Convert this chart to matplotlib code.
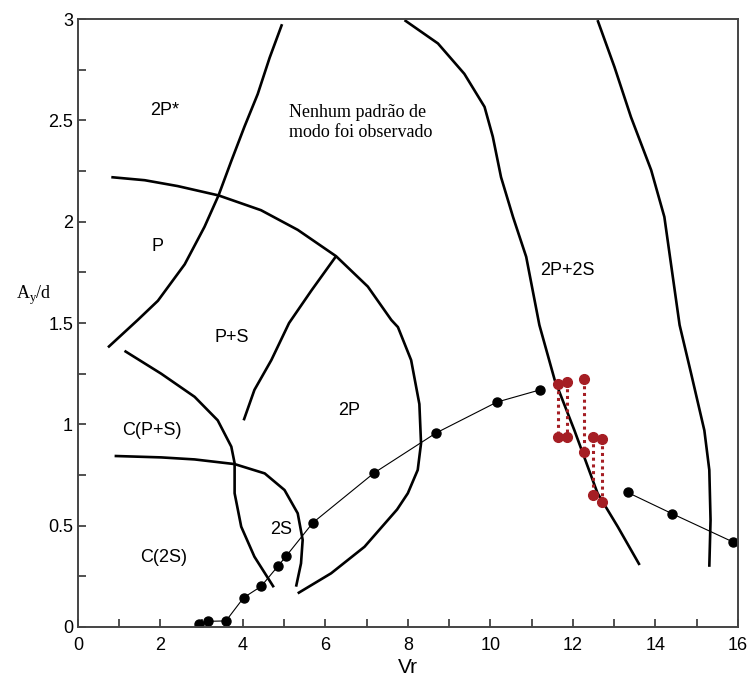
import matplotlib
matplotlib.use("Agg")
import matplotlib.pyplot as plt
from matplotlib.ticker import MultipleLocator

# boundary curves between the regimes (Vr, Ay/d)
curve_a_x = [0.73, 1.21, 1.45, 1.94, 2.59, 3.07, 3.41, 3.72, 4.04, 4.36, 4.65, 4.95]
curve_a_y = [1.38, 1.47, 1.515, 1.61, 1.79, 1.975, 2.13, 2.30, 2.47, 2.63, 2.81, 2.975]

curve_b_x = [0.81, 1.62, 2.42, 3.41, 4.44, 5.33, 6.26, 7.03, 7.6, 7.76, 8.08, 8.28,
             8.32, 8.24, 8.0, 7.74, 6.95, 6.14, 5.33]
curve_b_y = [2.22, 2.205, 2.176, 2.13, 2.057, 1.96, 1.83, 1.68, 1.515, 1.48, 1.317, 1.10,
             0.906, 0.775, 0.66, 0.58, 0.396, 0.265, 0.166]

curve_c_x = [6.26, 5.66, 5.12, 4.69, 4.28, 4.02]
curve_c_y = [1.83, 1.66, 1.50, 1.317, 1.17, 1.02]

curve_d_x = [1.13, 2.02, 2.83, 3.39, 3.72, 3.80, 3.80, 3.96, 4.28, 4.75]
curve_d_y = [1.363, 1.25, 1.136, 1.02, 0.89, 0.808, 0.66, 0.495, 0.347, 0.196]

curve_e_x = [0.89, 2.02, 2.83, 3.80, 4.53, 5.01, 5.33, 5.45, 5.41, 5.29]
curve_e_y = [0.844, 0.837, 0.827, 0.804, 0.758, 0.676, 0.561, 0.43, 0.314, 0.199]

curve_f_x = [7.92, 8.73, 9.37, 9.86, 10.06, 10.26, 10.55, 10.87, 11.19, 11.56,
             12.04, 12.6, 13.09, 13.62]
curve_f_y = [2.995, 2.88, 2.73, 2.567, 2.42, 2.22, 2.024, 1.827, 1.49, 1.22,
             0.97, 0.66, 0.495, 0.306]

curve_g_x = [12.6, 13.01, 13.41, 13.9, 14.22, 14.59, 14.87, 15.19, 15.31, 15.34, 15.31]
curve_g_y = [2.995, 2.764, 2.517, 2.255, 2.024, 1.49, 1.25, 0.97, 0.775, 0.528, 0.297]

curves = [(curve_a_x, curve_a_y), (curve_b_x, curve_b_y), (curve_c_x, curve_c_y),
          (curve_d_x, curve_d_y), (curve_e_x, curve_e_y), (curve_f_x, curve_f_y),
          (curve_g_x, curve_g_y)]

# measured response, lower branch
vr_low = [2.93, 3.16, 3.59, 4.02, 4.44, 4.85, 5.05, 5.70, 7.18, 8.68, 10.16, 11.2]
ay_low = [0.015, 0.028, 0.03, 0.145, 0.20, 0.30, 0.35, 0.515, 0.76, 0.957, 1.11, 1.17]

# measured response, upper branch after jump
vr_high = [13.33, 14.4, 15.88]
ay_high = [0.664, 0.56, 0.42]

# intermittent points (top / bottom of each pair)
vr_jump = [11.64, 11.86, 12.27, 12.49, 12.71]
ay_jump_top = [1.197, 1.207, 1.225, 0.936, 0.929]
ay_jump_bot = [0.937, 0.94, 0.865, 0.651, 0.615]

fig = plt.figure(figsize=(7.49, 6.83), dpi=100)
ax = fig.add_axes([0.104, 0.082, 0.881, 0.890])

for cx, cy in curves:
    ax.plot(cx, cy, color="black", lw=1.9, solid_capstyle="butt")

ax.plot(vr_low, ay_low, color="black", lw=0.8, marker="o", ms=6.5)
ax.plot(vr_high, ay_high, color="black", lw=0.8, marker="o", ms=6.5)

red = "#a51e24"
for x, yt, yb in zip(vr_jump, ay_jump_top, ay_jump_bot):
    ax.plot([x, x], [yt, yb], color=red, lw=2.2, ls=(0, (1, 1.2)),
            marker="o", ms=7)

lab = dict(fontsize=13, family="Liberation Sans", ha="center", va="center")
ax.text(2.11, 2.55, "2P*", **lab)
ax.text(1.92, 1.88, "P", **lab)
ax.text(3.73, 1.43, "P+S", **lab)
ax.text(6.57, 1.07, "2P", **lab)
ax.text(1.79, 0.97, "C(P+S)", **lab)
ax.text(4.92, 0.48, "2S", **lab)
ax.text(2.08, 0.345, "C(2S)", **lab)
ax.text(11.88, 1.76, "2P+2S", **lab)
ax.text(5.12, 2.49, "Nenhum padrão de\nmodo foi observado", fontsize=13,
        family="Liberation Serif", ha="left", va="center", linespacing=1.2)

ax.set_xlim(0, 16)
ax.set_ylim(0, 3)
ax.xaxis.set_minor_locator(MultipleLocator(1))
ax.yaxis.set_minor_locator(MultipleLocator(0.25))
ax.set_xticks(range(0, 17, 2))
ax.set_xticklabels([str(v) for v in range(0, 17, 2)], family="Liberation Sans")
ax.set_yticks([0, 0.5, 1, 1.5, 2, 2.5, 3])
ax.set_yticklabels(["0", "0.5", "1", "1.5", "2", "2.5", "3"], family="Liberation Sans")
ax.tick_params(which="both", direction="in", length=6, width=1.2, color="#333333",
               labelsize=13, top=False, right=False)
ax.tick_params(axis="x", pad=7)
for s in ax.spines.values():
    s.set_linewidth(1.4)
    s.set_color("#444444")

ax.set_xlabel("Vr", fontsize=15, family="Liberation Sans", labelpad=3)
fig.text(0.045, 0.568, "A$_\\mathregular{y}$/d", fontsize=13, family="Liberation Serif",
         ha="center", va="center")

fig.savefig("out.png", dpi=100)
